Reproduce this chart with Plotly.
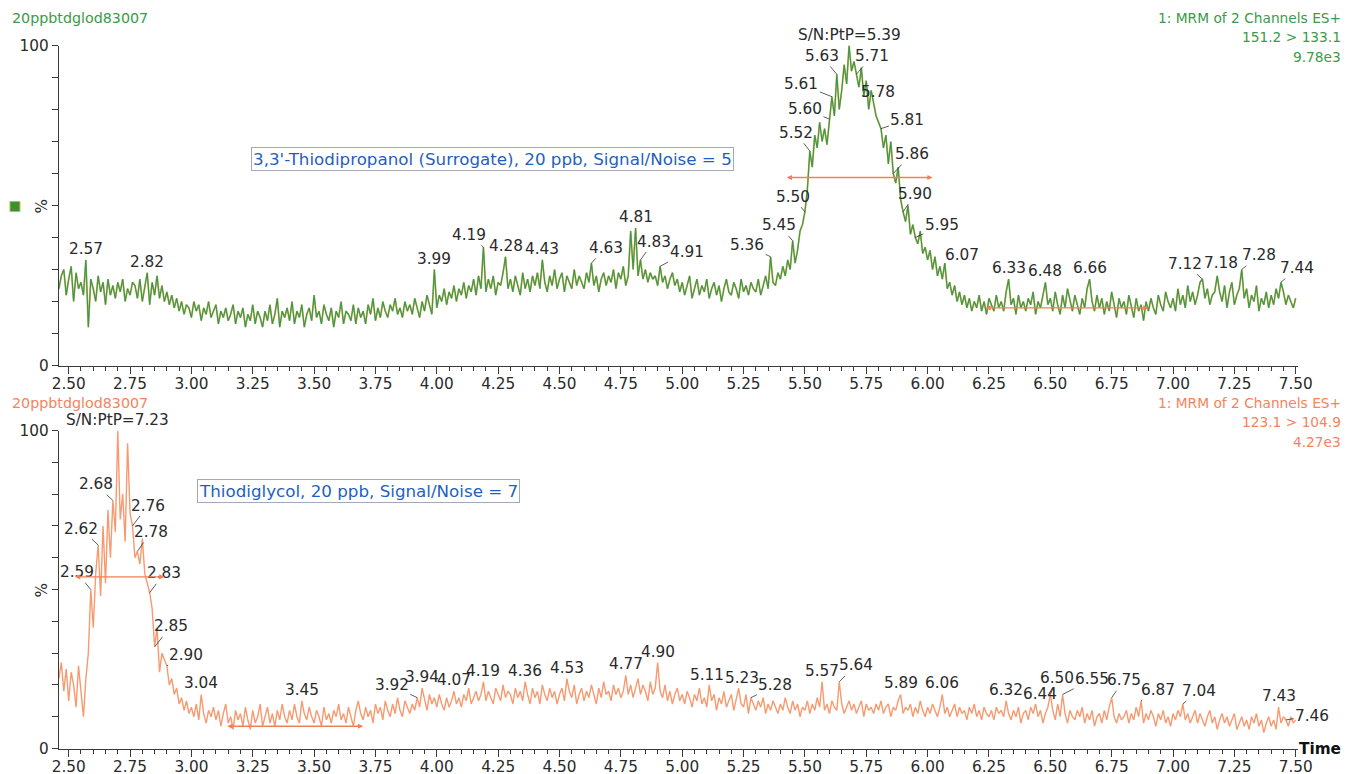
import numpy as np
import plotly.graph_objects as go

# ---------------- data ----------------
t_start = 2.46
t_step = 0.01

# 3,3'-Thiodipropanol channel (151.2 > 133.1), % of 9.78e3
tdp_pct = (
    [24, 28, 30, 22]
    + [27, 31, 20, 29, 24, 26, 22, 33, 12, 27]   # 2.50
    + [24, 20, 28, 23, 26, 19, 27, 22, 25, 21]   # 2.60
    + [26, 23, 27, 20, 24, 22, 26, 25, 21, 27]   # 2.70
    + [20, 24, 29, 19, 26, 22, 28, 21, 25, 20]   # 2.80
    + [23, 19, 22, 18, 21, 17, 20, 16, 19, 18]   # 2.90
    + [15, 20, 17, 19, 14, 18, 16, 20, 15, 17]   # 3.00
    + [19, 13, 17, 15, 18, 14, 16, 19, 13, 17]   # 3.10
    + [15, 18, 12, 16, 14, 19, 13, 17, 15, 12]   # 3.20
    + [17, 14, 19, 13, 16, 21, 12, 17, 15, 18]   # 3.30
    + [14, 20, 13, 17, 15, 19, 12, 16, 18, 14]   # 3.40
    + [22, 15, 17, 13, 19, 16, 14, 18, 12, 17]   # 3.50
    + [15, 20, 13, 17, 16, 14, 19, 13, 18, 15]   # 3.60
    + [17, 13, 19, 16, 21, 14, 18, 15, 20, 17]   # 3.70
    + [15, 19, 17, 21, 16, 18, 15, 20, 17, 19]   # 3.80
    + [16, 21, 18, 15, 20, 17, 22, 19, 16, 30]   # 3.90
    + [18, 22, 20, 24, 19, 23, 21, 25, 20, 24]   # 4.00
    + [22, 26, 21, 25, 23, 27, 22, 28, 24, 37]   # 4.10
    + [23, 27, 24, 28, 22, 26, 25, 29, 34, 24]   # 4.20
    + [27, 23, 28, 25, 22, 29, 24, 27, 23, 28]   # 4.30
    + [25, 29, 24, 33, 26, 23, 28, 25, 30, 24]   # 4.40
    + [27, 29, 23, 28, 26, 24, 30, 25, 28, 26]   # 4.50
    + [24, 29, 26, 32, 25, 28, 23, 27, 29, 25]   # 4.60
    + [28, 26, 30, 24, 29, 27, 31, 25, 28, 42]   # 4.70
    + [30, 43, 28, 33, 27, 30, 26, 29, 27, 28]   # 4.80
    + [25, 31, 26, 28, 24, 27, 29, 25, 27, 23]   # 4.90
    + [26, 22, 25, 28, 21, 24, 27, 22, 25, 23]   # 5.00
    + [27, 21, 24, 26, 22, 25, 20, 24, 27, 23]   # 5.10
    + [22, 26, 24, 21, 27, 23, 25, 22, 26, 24]   # 5.20
    + [23, 27, 22, 25, 28, 24, 34, 26, 25, 29]   # 5.30
    + [27, 31, 28, 33, 30, 39, 32, 36, 42, 44]   # 5.40
    + [48, 55, 67, 62, 72, 68, 76, 70, 74, 69]   # 5.50
    + [77, 84, 78, 91, 80, 86, 94, 88, 100, 92]  # 5.60
    + [95, 91, 87, 93, 84, 89, 80, 86, 82, 78]   # 5.70
    + [76, 74, 68, 72, 63, 70, 60, 57, 62, 52]   # 5.80
    + [48, 45, 50, 41, 44, 40, 38, 42, 35, 37]   # 5.90
    + [33, 36, 30, 34, 28, 31, 27, 32, 24, 26]   # 6.00
    + [22, 25, 20, 23, 19, 22, 18, 21, 17, 20]   # 6.10
    + [18, 22, 17, 20, 16, 21, 19, 17, 22, 18]   # 6.20
    + [20, 17, 23, 27, 19, 21, 16, 22, 18, 20]   # 6.30
    + [17, 21, 19, 23, 16, 20, 18, 22, 26, 19]   # 6.40
    + [21, 17, 23, 19, 16, 22, 18, 24, 20, 17]   # 6.50
    + [22, 19, 16, 21, 18, 24, 27, 20, 17, 22]   # 6.60
    + [18, 21, 16, 20, 17, 23, 19, 15, 21, 18]   # 6.70
    + [20, 16, 22, 18, 15, 21, 17, 19, 14, 20]   # 6.80
    + [17, 21, 18, 16, 22, 19, 17, 23, 20, 18]   # 6.90
    + [21, 17, 24, 19, 22, 18, 25, 20, 23, 19]   # 7.00
    + [22, 26, 27, 21, 24, 19, 22, 23, 28, 23]   # 7.10
    + [20, 25, 18, 23, 26, 19, 22, 24, 30, 21]   # 7.20
    + [24, 18, 22, 20, 25, 17, 21, 19, 23, 18]   # 7.30
    + [22, 19, 24, 21, 26, 23, 19, 22, 20, 18]   # 7.40
    + [21]
)

# Thiodiglycol channel (123.1 > 104.9), % of 4.27e3
tdg_pct = (
    [22, 27, 18, 25]
    + [15, 24, 20, 13, 26, 17, 10, 22, 30, 50]   # 2.50
    + [38, 55, 64, 48, 70, 52, 75, 60, 78, 68]   # 2.60
    + [100, 72, 80, 65, 96, 74, 70, 60, 62, 58]  # 2.70
    + [66, 55, 52, 49, 44, 32, 38, 24, 30, 28]   # 2.80
    + [26, 20, 22, 17, 19, 14, 16, 12, 15, 11]   # 2.90
    + [13, 10, 14, 9, 17, 11, 8, 12, 10, 13]     # 3.00
    + [9, 12, 7, 11, 14, 8, 10, 6, 12, 9]        # 3.10
    + [11, 7, 13, 9, 6, 12, 8, 10, 14, 7]        # 3.20
    + [10, 13, 8, 11, 7, 12, 9, 14, 10, 8]       # 3.30
    + [12, 9, 14, 10, 8, 15, 11, 9, 13, 10]      # 3.40
    + [8, 12, 10, 7, 13, 9, 11, 8, 12, 10]       # 3.50
    + [14, 9, 11, 8, 13, 10, 7, 12, 15, 11]      # 3.60
    + [9, 13, 10, 12, 8, 14, 11, 13, 9, 15]      # 3.70
    + [12, 10, 14, 11, 16, 12, 10, 15, 13, 11]   # 3.80
    + [14, 12, 16, 13, 19, 15, 12, 17, 14, 16]   # 3.90
    + [13, 17, 14, 12, 16, 13, 15, 18, 14, 16]   # 4.00
    + [13, 17, 15, 19, 14, 16, 18, 15, 17, 21]   # 4.10
    + [15, 18, 16, 14, 19, 17, 15, 20, 16, 18]   # 4.20
    + [17, 14, 19, 16, 18, 15, 21, 17, 14, 19]   # 4.30
    + [16, 18, 14, 20, 17, 15, 19, 16, 18, 14]   # 4.40
    + [17, 19, 15, 22, 18, 16, 20, 14, 17, 19]   # 4.50
    + [15, 18, 16, 20, 17, 14, 19, 16, 21, 17]   # 4.60
    + [18, 15, 20, 17, 19, 16, 18, 23, 17, 20]   # 4.70
    + [16, 19, 22, 17, 20, 18, 15, 21, 17, 19]   # 4.80
    + [27, 18, 16, 20, 15, 18, 14, 17, 19, 15]   # 4.90
    + [17, 14, 18, 16, 13, 17, 15, 19, 14, 16]   # 5.00
    + [13, 20, 15, 17, 12, 16, 14, 18, 13, 15]   # 5.10
    + [17, 12, 16, 19, 14, 13, 17, 11, 16, 14]   # 5.20
    + [12, 15, 13, 16, 11, 14, 12, 15, 13, 11]   # 5.30
    + [14, 12, 16, 13, 11, 15, 12, 14, 10, 13]   # 5.40
    + [12, 15, 11, 14, 12, 16, 13, 21, 12, 14]   # 5.50
    + [11, 15, 13, 12, 21, 14, 11, 13, 15, 12]   # 5.60
    + [14, 11, 13, 15, 10, 14, 12, 13, 11, 14]   # 5.70
    + [12, 15, 11, 13, 14, 10, 13, 12, 15, 17]   # 5.80
    + [11, 13, 12, 14, 10, 13, 11, 15, 12, 10]   # 5.90
    + [13, 11, 14, 12, 10, 13, 17, 11, 13, 10]   # 6.00
    + [12, 14, 10, 13, 11, 12, 9, 13, 11, 14]    # 6.10
    + [10, 12, 9, 13, 11, 10, 12, 9, 13, 11]     # 6.20
    + [12, 10, 15, 11, 9, 12, 10, 13, 8, 11]     # 6.30
    + [12, 9, 13, 11, 14, 10, 12, 8, 11, 13]     # 6.40
    + [17, 12, 9, 14, 10, 17, 11, 8, 12, 10]     # 6.50
    + [9, 12, 10, 13, 8, 11, 9, 12, 7, 10]       # 6.60
    + [11, 8, 12, 9, 13, 16, 10, 8, 11, 9]       # 6.70
    + [10, 12, 8, 11, 9, 13, 10, 15, 8, 11]      # 6.80
    + [9, 12, 10, 7, 11, 9, 12, 8, 10, 7]        # 6.90
    + [11, 9, 12, 10, 14, 9, 11, 8, 10, 12]      # 7.00
    + [8, 11, 9, 7, 10, 12, 8, 10, 6, 9]         # 7.10
    + [11, 8, 10, 7, 9, 11, 6, 8, 10, 7]         # 7.20
    + [9, 6, 10, 8, 11, 7, 9, 5, 8, 10]          # 7.30
    + [7, 9, 6, 13, 8, 10, 9, 7, 10, 8]          # 7.40
    + [9]
)

assert len(tdp_pct) == len(tdg_pct) == 505
time_min = np.round(t_start + t_step * np.arange(len(tdp_pct)), 2)

top_peak_times = [2.57, 2.82, 3.99, 4.19, 4.28, 4.43, 4.63, 4.81, 4.83, 4.91, 5.36, 5.45,
                  5.50, 5.52, 5.60, 5.61, 5.63, 5.71, 5.78, 5.81, 5.86, 5.90, 5.95, 6.07,
                  6.33, 6.48, 6.66, 7.12, 7.18, 7.28, 7.44]
bot_peak_times = [2.59, 2.62, 2.68, 2.76, 2.78, 2.83, 2.85, 2.90, 3.04, 3.45, 3.92, 3.94,
                  4.07, 4.19, 4.36, 4.53, 4.77, 4.90, 5.11, 5.23, 5.28, 5.57, 5.64, 5.89,
                  6.06, 6.32, 6.44, 6.50, 6.55, 6.75, 6.87, 7.04, 7.43, 7.46]

top_sn = "S/N:PtP=5.39"
bot_sn = "S/N:PtP=7.23"
sample_name = "20ppbtdglod83007"
top_header = ["1: MRM of 2 Channels ES+", "151.2 > 133.1", "9.78e3"]
bot_header = ["1: MRM of 2 Channels ES+", "123.1 > 104.9", "4.27e3"]
top_box = "3,3'-Thiodipropanol (Surrogate), 20 ppb, Signal/Noise = 5"
bot_box = "Thiodiglycol, 20 ppb, Signal/Noise = 7"

# noise / peak-width markers: (start time, end time, level %)
top_bars = [(5.42, 6.02, 58.75), (6.23, 6.90, 18)]
bot_bars = [(2.52, 2.89, 54), (3.14, 3.70, 7)]

x_ticks = [2.50, 2.75, 3.00, 3.25, 3.50, 3.75, 4.00, 4.25, 4.50, 4.75, 5.00,
           5.25, 5.50, 5.75, 6.00, 6.25, 6.50, 6.75, 7.00, 7.25, 7.50]

# ---------------- styling / layout ----------------
# the page is photographed with a small offset and slight reduction;
# positions below are given in target picture pixels and converted.
OX, SX = 6.0, 0.986
OY, SY = 8.5, 0.977
K = 1 / 0.981                       # size compensation for fonts / pixel offsets
W, H = 1362, 784

FONT = "DejaVu Sans"
GREEN = "#2f9a5c"
GOLD = "#dcae3c"
ORANGE = "#f79a70"
ORANGE_TXT = "#f4845c"
HDR_GREEN = "#3c9a48"
LABEL = "#2a2a2a"
AX = "#3a3a3a"
FS = 15 * K

def px_x(p):
    return ((p - OX) / SX) / W

def px_y(p):
    return 1 - ((p - OY) / SY) / H

x_dom = [px_x(58), px_x(1300)]
top_dom = [px_y(365), px_y(45)]
bot_dom = [px_y(748), px_y(430)]

fig = go.Figure()
fig.add_trace(go.Scatter(x=time_min, y=tdp_pct, mode="lines", line=dict(color=GOLD, width=1.8),
                         xaxis="x", yaxis="y", hoverinfo="skip", showlegend=False))
fig.add_trace(go.Scatter(x=time_min, y=tdp_pct, mode="lines", line=dict(color=GREEN, width=1.1),
                         xaxis="x", yaxis="y", showlegend=False))
fig.add_trace(go.Scatter(x=time_min, y=tdg_pct, mode="lines", line=dict(color=ORANGE, width=1.4),
                         xaxis="x2", yaxis="y2", showlegend=False))

xaxis_common = dict(range=[2.46, 7.51], domain=x_dom, showgrid=False, zeroline=False,
                    showline=True, linecolor=AX, linewidth=1.3, ticks="outside", ticklen=7,
                    tickwidth=1.2, tickcolor=AX, tickvals=x_ticks, tickformat=".2f",
                    ticklabelstandoff=-3,
                    tickfont=dict(family=FONT, size=FS, color=LABEL),
                    minor=dict(dtick=0.05, tick0=2.5, ticks="outside", ticklen=4, tickcolor=AX,
                               tickwidth=1, showgrid=False))
yaxis_common = dict(range=[0, 100], showgrid=False, zeroline=False, showline=True, linecolor=AX,
                    linewidth=1.3, ticks="outside", ticklen=6, tickwidth=1.2, tickcolor=AX,
                    tickvals=list(range(0, 101, 10)),
                    ticktext=["0"] + [""] * 9 + ["100"],
                    tickfont=dict(family=FONT, size=FS, color=LABEL))

fig.update_layout(
    width=W, height=H, margin=dict(l=0, r=0, t=0, b=0),
    paper_bgcolor="white", plot_bgcolor="white", showlegend=False,
    xaxis=dict(**xaxis_common, anchor="y"),
    yaxis=dict(**yaxis_common, domain=top_dom, anchor="x"),
    xaxis2=dict(**xaxis_common, anchor="y2"),
    yaxis2=dict(**yaxis_common, domain=bot_dom, anchor="x2"),
    font=dict(family=FONT, color=LABEL),
)

ann = []

def value_at(series, t):
    return series[int(round((t - t_start) / t_step))]

top_leaders = {4.19: (-14, -12), 4.63: (14, -15), 4.83: (13, -18), 4.91: (26, -14),
               5.36: (-23, -11), 5.45: (-13, -15), 5.50: (-12, -15), 5.52: (-14, -18),
               5.60: (-24, -10), 5.61: (-30, -12), 5.63: (-15, -18), 5.71: (15, -18),
               5.81: (26, -9), 5.86: (18, -19), 5.90: (12, -18), 5.95: (26, -12),
               6.07: (17, -8), 7.12: (-17, -15), 7.28: (17, -14), 7.44: (16, -14)}
top_shift = {5.78: (4, -11), 7.18: (4, -13)}
bot_leaders = {2.59: (-14, -17), 2.62: (-17, -16), 2.68: (-17, -16), 2.76: (15, -20),
               2.78: (13, -19), 2.83: (14, -19), 2.85: (16, -20), 2.90: (19, -11),
               3.92: (-25, -12), 5.28: (24, -12), 5.64: (16, -16), 6.50: (7, -16),
               6.55: (29, -15), 6.75: (12, -17), 6.87: (17, -11), 7.04: (16, -13),
               7.46: (26, -4)}
bot_shift = {6.44: (4, -10), 5.11: (-2, -10), 5.23: (3, -10)}

def add_labels(times, series, xr, yr, leaders, shifts):
    for t in times:
        v = value_at(series, t)
        base = dict(x=t, y=v, xref=xr, yref=yr, text=f"{t:.2f}", xanchor="center",
                    font=dict(family=FONT, size=FS, color=LABEL))
        if t in leaders:
            dx, dy = leaders[t]
            base.update(showarrow=True, ax=dx * K, ay=dy * K, arrowhead=0, arrowwidth=0.8,
                        arrowcolor="#333", standoff=0, startstandoff=0)
        elif t in shifts:
            dx, dy = shifts[t]
            base.update(showarrow=False, xshift=dx * K, yshift=-dy * K, yanchor="middle")
        else:
            base.update(showarrow=False, yanchor="bottom", yshift=0)
        ann.append(base)

add_labels(top_peak_times, tdp_pct, "x", "y", top_leaders, top_shift)
add_labels(bot_peak_times, tdg_pct, "x2", "y2", bot_leaders, bot_shift)

# S/N labels above the apex
for series, xr, yr, txt in [(tdp_pct, "x", "y", top_sn), (tdg_pct, "x2", "y2", bot_sn)]:
    i = int(np.argmax(series))
    ann.append(dict(x=time_min[i], y=series[i], xref=xr, yref=yr, text=txt, showarrow=False,
                    xanchor="center", yanchor="bottom", yshift=0,
                    font=dict(family=FONT, size=FS, color=LABEL)))

# noise / width bars
for bars, xr, yr in [(top_bars, "x", "y"), (bot_bars, "x2", "y2")]:
    for a, b, lvl in bars:
        ann.append(dict(x=b, y=lvl, ax=a, ay=lvl, xref=xr, yref=yr, axref=xr, ayref=yr,
                        text="", showarrow=True, arrowhead=2, arrowside="end+start",
                        arrowsize=0.8, arrowwidth=1.3, arrowcolor="#f27f57"))

# "%" axis titles
for yr in ["y", "y2"]:
    ann.append(dict(x=px_x(41), y=50, xref="paper", yref=yr, text="%", textangle=-90,
                    xanchor="center", yanchor="middle", showarrow=False,
                    font=dict(family=FONT, size=FS, color=LABEL)))

# headers
for ypx, col, name, hdr in [(17, HDR_GREEN, sample_name, top_header),
                            (402, ORANGE_TXT, sample_name, bot_header)]:
    ann.append(dict(x=px_x(9), y=px_y(ypx), xref="paper", yref="paper", text=name,
                    xanchor="left", yanchor="middle", showarrow=False,
                    font=dict(family=FONT, size=14 * K, color=col)))
    for k, line in enumerate(hdr):
        ann.append(dict(x=px_x(1345), y=px_y(ypx + 19.5 * k), xref="paper", yref="paper",
                        text=line, xanchor="right", yanchor="middle", showarrow=False,
                        font=dict(family=FONT, size=13.5 * K, color=col)))

# compound boxes
for cx, cy, txt in [(493, 158, top_box), (358, 490, bot_box)]:
    ann.append(dict(x=px_x(cx), y=px_y(cy), xref="paper", yref="paper", text=txt,
                    xanchor="center", yanchor="middle",
                    showarrow=False, font=dict(family=FONT, size=16.4 * K, color="#1f5fbf"),
                    bordercolor="#a3a9bd", borderwidth=1, borderpad=1, bgcolor="white"))

# Time label
ann.append(dict(x=px_x(1345), y=px_y(748), xref="paper", yref="paper", text="<b>Time</b>",
                xanchor="right", yanchor="middle", showarrow=False,
                font=dict(family=FONT, size=15 * K, color="#111")))

fig.update_layout(annotations=ann)

# small channel marker square
fig.add_shape(type="rect", xref="paper", yref="paper",
              x0=px_x(9), x1=px_x(19), y0=px_y(211), y1=px_y(201),
              fillcolor="#3a8f3a", line=dict(color=GOLD, width=1))

fig.write_html(
    "out.html",
    config={"displayModeBar": False},
    post_script=("document.documentElement.style.margin='0';"
                 "document.body.style.margin='0';document.body.style.padding='0';"
                 "document.documentElement.style.overflow='hidden';"),
)
